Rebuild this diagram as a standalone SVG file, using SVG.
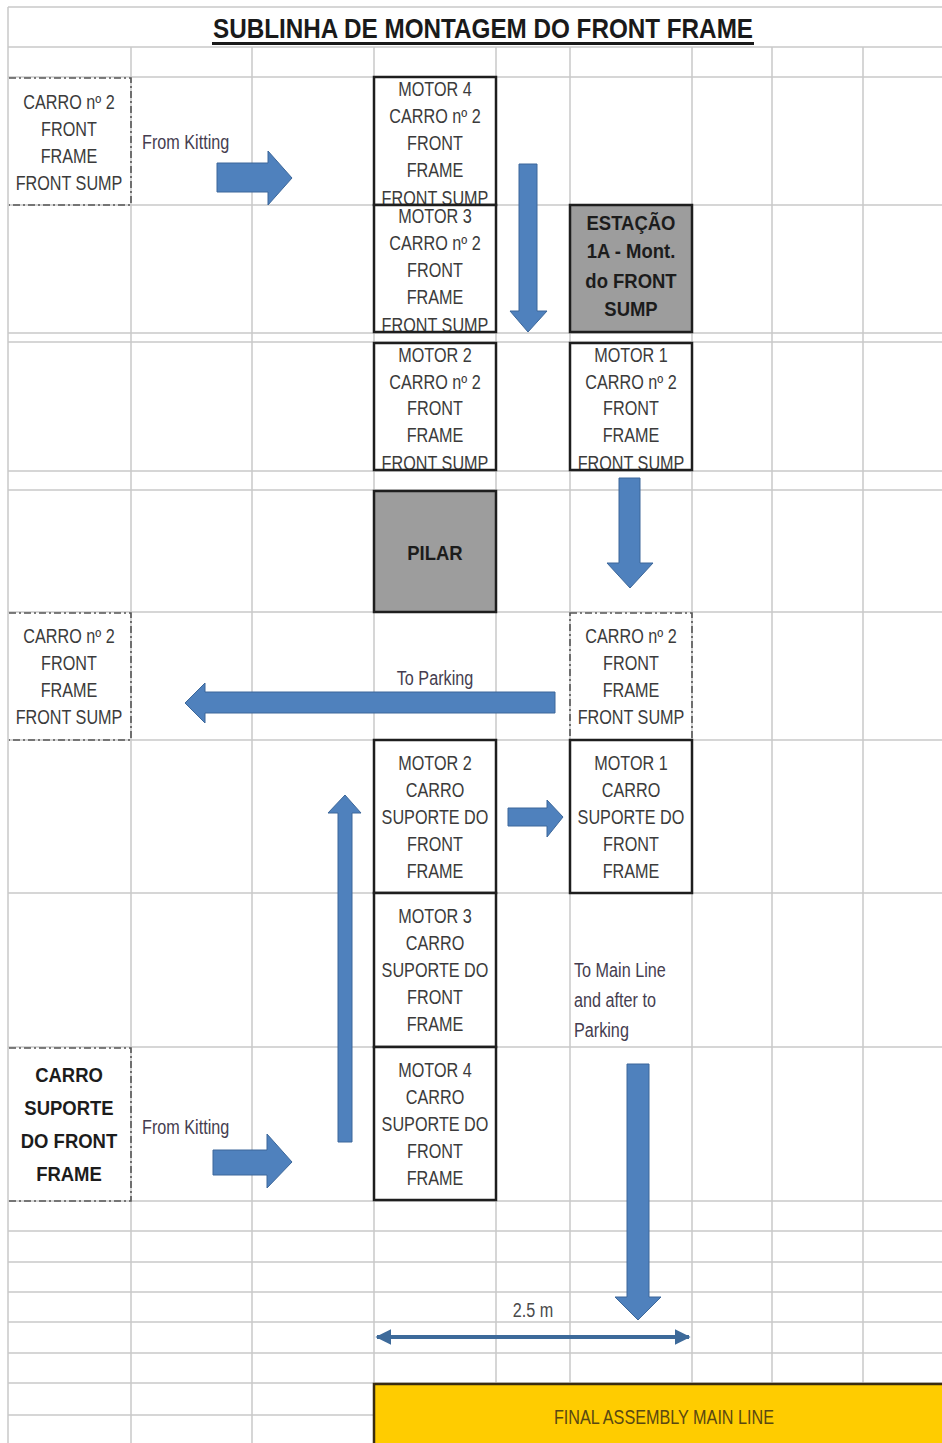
<svg xmlns="http://www.w3.org/2000/svg" width="942" height="1443" viewBox="0 0 942 1443">
  <style>
    .grid { stroke: #c9c9c9; stroke-width: 1.5; fill: none; }
    .box { fill: #ffffff; stroke: #1e1e1e; stroke-width: 2.5; }
    .gray { fill: #9d9d9d; stroke: #1e1e1e; stroke-width: 2.5; }
    .dash { fill: none; stroke: #555555; stroke-width: 1.6; stroke-dasharray: 7 3 2 3; }
    text { transform-box: fill-box; transform-origin: center; }
    .t { font-family: 'Liberation Sans', Arial, sans-serif; font-size: 20px; fill: #3b3b3b; text-anchor: middle; transform: scaleX(0.81); }
    .tb { font-family: 'Liberation Sans', Arial, sans-serif; font-size: 21px; font-weight: bold; fill: #1c1c1c; text-anchor: middle; transform: scaleX(0.88); }
    .note { font-family: 'Liberation Sans', Arial, sans-serif; font-size: 20px; fill: #453d4f; transform-origin: left center; transform: scaleX(0.81); }
    .notec { font-family: 'Liberation Sans', Arial, sans-serif; font-size: 20px; fill: #453d4f; text-anchor: middle; transform: scaleX(0.81); }
    .arrow { fill: #4f81bd; stroke: #3c679a; stroke-width: 1; }
  </style>
  <defs>
    <clipPath id="c-m4a"><rect x="375" y="78" width="120" height="126"/></clipPath>
    <clipPath id="c-m3a"><rect x="375" y="206" width="120" height="125"/></clipPath>
    <clipPath id="c-m2a"><rect x="375" y="344" width="120" height="125"/></clipPath>
    <clipPath id="c-m1a"><rect x="571" y="344" width="120" height="125"/></clipPath>
    <marker id="dim" viewBox="0 0 10 10" refX="9" refY="5" markerWidth="4" markerHeight="4" orient="auto-start-reverse">
      <path d="M0,0 L10,5 L0,10 z" fill="#3d6a9a"/>
    </marker>
  </defs>

  <rect x="0" y="0" width="942" height="1443" fill="#ffffff"/>

  <!-- sheet grid -->
  <g id="grid" class="grid">
    <line x1="8" y1="7" x2="942" y2="7"/>
    <line x1="8" y1="47" x2="942" y2="47"/>
    <line x1="8" y1="77" x2="942" y2="77"/>
    <line x1="8" y1="205" x2="942" y2="205"/>
    <line x1="8" y1="333" x2="942" y2="333"/>
    <line x1="8" y1="342" x2="942" y2="342"/>
    <line x1="8" y1="471" x2="942" y2="471"/>
    <line x1="8" y1="490" x2="942" y2="490"/>
    <line x1="8" y1="612" x2="942" y2="612"/>
    <line x1="8" y1="740" x2="942" y2="740"/>
    <line x1="8" y1="893" x2="942" y2="893"/>
    <line x1="8" y1="1047" x2="942" y2="1047"/>
    <line x1="8" y1="1201" x2="942" y2="1201"/>
    <line x1="8" y1="1231" x2="942" y2="1231"/>
    <line x1="8" y1="1262" x2="942" y2="1262"/>
    <line x1="8" y1="1292" x2="942" y2="1292"/>
    <line x1="8" y1="1322" x2="942" y2="1322"/>
    <line x1="8" y1="1353" x2="942" y2="1353"/>
    <line x1="8" y1="1383" x2="942" y2="1383"/>
    <line x1="8" y1="1415" x2="374" y2="1415"/>
    <line x1="8" y1="7" x2="8" y2="1443"/>
    <line x1="131" y1="47" x2="131" y2="1443"/>
    <line x1="252" y1="47" x2="252" y2="1443"/>
    <line x1="374" y1="47" x2="374" y2="1443"/>
    <line x1="496" y1="47" x2="496" y2="1443"/>
    <line x1="570" y1="47" x2="570" y2="1443"/>
    <line x1="692" y1="47" x2="692" y2="1443"/>
    <line x1="772" y1="47" x2="772" y2="1443"/>
    <line x1="863" y1="47" x2="863" y2="1443"/>
  </g>

  <!-- title -->
  <g id="title">
    <text x="483" y="38" font-family="'Liberation Sans', Arial, sans-serif" font-size="28" font-weight="bold" fill="#1a1a1a" text-anchor="middle" textLength="540" lengthAdjust="spacingAndGlyphs">SUBLINHA DE MONTAGEM DO FRONT FRAME</text>
    <rect x="212" y="42" width="542" height="3" fill="#1a1a1a"/>
  </g>

  <!-- incoming cart, upper -->
  <g id="cart-in-top">
    <path class="dash" d="M9,78 H131 V205 H9"/>
    <text class="t" x="69" y="109">CARRO nº 2</text>
    <text class="t" x="69" y="136">FRONT</text>
    <text class="t" x="69" y="163">FRAME</text>
    <text class="t" x="69" y="190">FRONT SUMP</text>
  </g>

  <g id="m4-top">
    <rect class="box" x="374" y="77" width="122" height="128"/>
    <g clip-path="url(#c-m4a)">
      <text class="t" x="435" y="96">MOTOR 4</text>
      <text class="t" x="435" y="123">CARRO nº 2</text>
      <text class="t" x="435" y="150">FRONT</text>
      <text class="t" x="435" y="177">FRAME</text>
      <text class="t" x="435" y="205">FRONT SUMP</text>
    </g>
  </g>

  <g id="m3-top">
    <rect class="box" x="374" y="205" width="122" height="127"/>
    <g clip-path="url(#c-m3a)">
      <text class="t" x="435" y="223">MOTOR 3</text>
      <text class="t" x="435" y="250">CARRO nº 2</text>
      <text class="t" x="435" y="277">FRONT</text>
      <text class="t" x="435" y="304">FRAME</text>
      <text class="t" x="435" y="332">FRONT SUMP</text>
    </g>
  </g>

  <g id="station-1a">
    <rect class="gray" x="570" y="205" width="122" height="127"/>
    <text class="tb" x="631" y="230">ESTAÇÃO</text>
    <text class="tb" x="631" y="258">1A - Mont.</text>
    <text class="tb" x="631" y="288">do FRONT</text>
    <text class="tb" x="631" y="316">SUMP</text>
  </g>

  <g id="m2-top">
    <rect class="box" x="374" y="343" width="122" height="127"/>
    <g clip-path="url(#c-m2a)">
      <text class="t" x="435" y="362">MOTOR 2</text>
      <text class="t" x="435" y="389">CARRO nº 2</text>
      <text class="t" x="435" y="415">FRONT</text>
      <text class="t" x="435" y="442">FRAME</text>
      <text class="t" x="435" y="470">FRONT SUMP</text>
    </g>
  </g>

  <g id="m1-top">
    <rect class="box" x="570" y="343" width="122" height="127"/>
    <g clip-path="url(#c-m1a)">
      <text class="t" x="631" y="362">MOTOR 1</text>
      <text class="t" x="631" y="389">CARRO nº 2</text>
      <text class="t" x="631" y="415">FRONT</text>
      <text class="t" x="631" y="442">FRAME</text>
      <text class="t" x="631" y="470">FRONT SUMP</text>
    </g>
  </g>

  <g id="pilar">
    <rect class="gray" x="374" y="491" width="122" height="121"/>
    <text class="tb" x="435" y="560" font-size="22">PILAR</text>
  </g>

  <!-- outgoing carts to parking -->
  <g id="cart-out-left">
    <path class="dash" d="M9,613 H131 V740 H9"/>
    <text class="t" x="69" y="643">CARRO nº 2</text>
    <text class="t" x="69" y="670">FRONT</text>
    <text class="t" x="69" y="697">FRAME</text>
    <text class="t" x="69" y="724">FRONT SUMP</text>
  </g>

  <g id="cart-out-right">
    <rect class="dash" x="570" y="613" width="122" height="127"/>
    <text class="t" x="631" y="643">CARRO nº 2</text>
    <text class="t" x="631" y="670">FRONT</text>
    <text class="t" x="631" y="697">FRAME</text>
    <text class="t" x="631" y="724">FRONT SUMP</text>
  </g>

  <!-- support carts -->
  <g id="m2-sup">
    <rect class="box" x="374" y="740" width="122" height="153"/>
    <text class="t" x="435" y="770">MOTOR 2</text>
    <text class="t" x="435" y="797">CARRO</text>
    <text class="t" x="435" y="824">SUPORTE DO</text>
    <text class="t" x="435" y="851">FRONT</text>
    <text class="t" x="435" y="878">FRAME</text>
  </g>

  <g id="m1-sup">
    <rect class="box" x="570" y="740" width="122" height="153"/>
    <text class="t" x="631" y="770">MOTOR 1</text>
    <text class="t" x="631" y="797">CARRO</text>
    <text class="t" x="631" y="824">SUPORTE DO</text>
    <text class="t" x="631" y="851">FRONT</text>
    <text class="t" x="631" y="878">FRAME</text>
  </g>

  <g id="m3-sup">
    <rect class="box" x="374" y="893" width="122" height="154"/>
    <text class="t" x="435" y="923">MOTOR 3</text>
    <text class="t" x="435" y="950">CARRO</text>
    <text class="t" x="435" y="977">SUPORTE DO</text>
    <text class="t" x="435" y="1004">FRONT</text>
    <text class="t" x="435" y="1031">FRAME</text>
  </g>

  <g id="m4-sup">
    <rect class="box" x="374" y="1047" width="122" height="153"/>
    <text class="t" x="435" y="1077">MOTOR 4</text>
    <text class="t" x="435" y="1104">CARRO</text>
    <text class="t" x="435" y="1131">SUPORTE DO</text>
    <text class="t" x="435" y="1158">FRONT</text>
    <text class="t" x="435" y="1185">FRAME</text>
  </g>

  <g id="cart-in-bottom">
    <path class="dash" d="M9,1048 H131 V1201 H9"/>
    <text class="tb" x="69" y="1082" font-size="22">CARRO</text>
    <text class="tb" x="69" y="1115" font-size="22">SUPORTE</text>
    <text class="tb" x="69" y="1148" font-size="22">DO FRONT</text>
    <text class="tb" x="69" y="1181" font-size="22">FRAME</text>
  </g>

  <!-- main line -->
  <g id="main-line">
    <rect x="374" y="1384" width="570" height="62" fill="#ffcc00" stroke="#3a2c10" stroke-width="2.5"/>
    <text class="t" x="664" y="1424" style="fill:#5a4812">FINAL ASSEMBLY MAIN LINE</text>
  </g>

  <!-- flow arrows and labels -->
  <g id="connectors">
    <text class="note" x="142" y="149">From Kitting</text>
    <polygon class="arrow" points="217,163 268,163 268,151 292,178 268,205 268,192 217,192"/>

    <polygon class="arrow" points="519,164 537,164 537,311 547,311 528,332 510,311 519,311"/>

    <polygon class="arrow" points="619,478 640,478 640,563 653,563 630,588 607,563 619,563"/>

    <text class="notec" x="435" y="685">To Parking</text>
    <polygon class="arrow" points="555,692 205,692 205,683 185,703 205,723 205,713 555,713"/>

    <polygon class="arrow" points="508,808 547,808 547,800 563,817 547,837 547,826 508,826"/>

    <polygon class="arrow" points="338,1142 338,813 328,813 345,795 361,813 352,813 352,1142"/>

    <text class="note" x="142" y="1134">From Kitting</text>
    <polygon class="arrow" points="213,1150 267,1150 267,1134 292,1162 267,1188 267,1175 213,1175"/>

    <text class="note" x="574" y="977">To Main Line</text>
    <text class="note" x="574" y="1007">and after to</text>
    <text class="note" x="574" y="1037">Parking</text>
    <polygon class="arrow" points="627,1064 649,1064 649,1297 661,1297 638,1320 615,1297 627,1297"/>

    <line x1="377" y1="1337" x2="689" y2="1337" stroke="#3d6a9a" stroke-width="4" marker-start="url(#dim)" marker-end="url(#dim)"/>
    <text class="notec" x="533" y="1317" style="fill:#4a4a4a">2.5 m</text>
  </g>
</svg>
